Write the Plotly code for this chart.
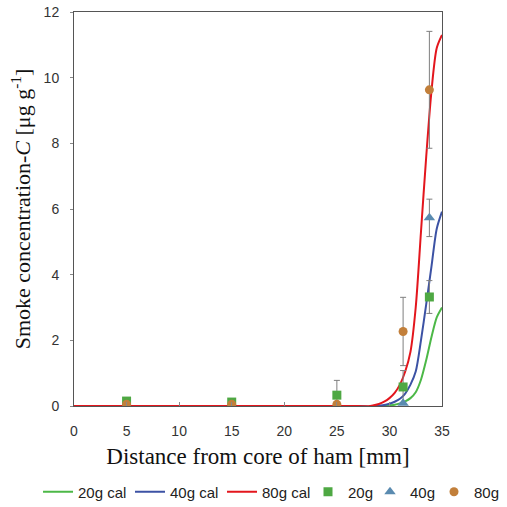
import plotly.graph_objects as go

# Measured data
x_meas = [5, 15, 25, 31.3, 33.8]
y_20g = [0.15, 0.12, 0.33, 0.58, 3.32]
e_20g = [0.0, 0.0, 0.45, 0.5, 0.5]
y_40g = [0.0, 0.0, 0.0, 0.08, 5.73]
e_40g = [0.0, 0.0, 0.0, 0.0, 0.57]
y_80g = [0.05, 0.05, 0.05, 2.27, 9.63]
e_80g = [0.0, 0.0, 0.0, 1.04, 1.78]

# Calculated curves
x_cal = [0, 5, 10, 15, 20, 25, 27, 28, 28.5, 29.0, 29.5, 30.0, 30.5, 31.0, 31.5, 32.0, 32.5, 33.0, 33.5, 34.0, 34.5, 35.0]
y_20cal = [0, 0, 0, 0, 0, 0, 0, -0.02, -0.02, -0.01, 0.0, 0.02, 0.04, 0.08, 0.14, 0.24, 0.42, 0.8, 1.4, 2.1, 2.7, 3.0]
y_40cal = [0, 0, 0, 0, 0, 0, 0, -0.02, -0.01, 0.01, 0.03, 0.07, 0.13, 0.22, 0.38, 0.65, 1.05, 2.0, 3.1, 4.25, 5.4, 5.92]
y_80cal = [0, 0, 0, 0, 0, 0, 0, -0.01, 0.02, 0.06, 0.13, 0.24, 0.4, 0.65, 1.05, 1.65, 3.0, 5.3, 7.6, 9.6, 10.9, 11.3]

x_ticks = [0, 5, 10, 15, 20, 25, 30, 35]
y_ticks = [0, 2, 4, 6, 8, 10, 12]

fig = go.Figure()
fig.add_trace(go.Scatter(x=x_cal, y=y_20cal, mode="lines", name="20g cal", legend="legend",
                         line=dict(color="#4CB847", width=2, shape="spline", smoothing=0.8)))
fig.add_trace(go.Scatter(x=x_cal, y=y_40cal, mode="lines", name="40g cal", legend="legend2",
                         line=dict(color="#3C52A4", width=2, shape="spline", smoothing=0.8)))
fig.add_trace(go.Scatter(x=x_cal, y=y_80cal, mode="lines", name="80g cal", legend="legend3",
                         line=dict(color="#E3161D", width=2, shape="spline", smoothing=0.8)))

err_style = dict(type="data", thickness=1, width=3, color="#7f7f7f")
fig.add_trace(go.Scatter(x=x_meas, y=y_20g, mode="markers", name="20g", legend="legend4",
                         marker=dict(symbol="square", color="#4EA843", size=9),
                         error_y=dict(array=e_20g, **err_style)))
fig.add_trace(go.Scatter(x=x_meas, y=y_40g, mode="markers", name="40g", legend="legend5",
                         marker=dict(symbol="triangle-up", color="#5A8BB0", size=10),
                         error_y=dict(array=e_40g, **err_style)))
fig.add_trace(go.Scatter(x=x_meas, y=y_80g, mode="markers", name="80g", legend="legend6",
                         marker=dict(symbol="circle", color="#C27F3A", size=9),
                         error_y=dict(array=e_80g, **err_style)))

leg_font = dict(family="Liberation Sans, Arial", size=15, color="#222")
def leg(xc):
    return dict(orientation="h", xref="container", yref="container", x=xc, xanchor="left",
                y=0.0296, yanchor="middle", font=leg_font, itemwidth=30,
                bgcolor="rgba(0,0,0,0)")

fig.update_layout(
    width=507, height=507,
    margin=dict(l=74, r=65, t=12, b=101, autoexpand=False),
    plot_bgcolor="white", paper_bgcolor="white",
    showlegend=True,
    legend=leg(0.075), legend2=leg(0.2564), legend3=leg(0.4379),
    legend4=leg(0.6075), legend5=leg(0.7298), legend6=leg(0.856),
    font=dict(family="Liberation Sans, Arial", size=14, color="#333"),
)
fig.update_xaxes(range=[0, 35], tickvals=x_ticks, showgrid=False, zeroline=False,
                 showline=True, linecolor="#555", linewidth=1, mirror=True,
                 ticks="inside", ticklen=4, tickcolor="#888", ticklabelstandoff=12,
                 title=dict(text="Distance from core of ham [mm]", standoff=10,
                            font=dict(family="Liberation Serif, Times New Roman", size=23, color="#111")))
fig.update_yaxes(range=[0, 12], tickvals=y_ticks, showgrid=False, zeroline=False,
                 showline=True, linecolor="#555", linewidth=1, mirror=True,
                 ticks="outside", ticklen=3, tickcolor="#888", ticklabelstandoff=8,
                 ticklabeloverflow="allow",
                 title=dict(text="Smoke concentration-<i>C</i> [μg g<sup>-1</sup>]", standoff=6,
                            font=dict(family="Liberation Serif, Times New Roman", size=22, color="#111")))

fig.write_html("out.html", config={"displayModeBar": False},
               post_script="document.body.style.margin='0';document.body.style.overflow='hidden';")
